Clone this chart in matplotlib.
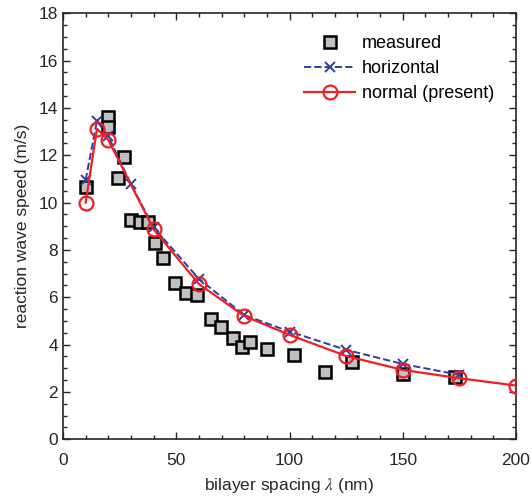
import numpy as np
import matplotlib
matplotlib.use("Agg")
import matplotlib.pyplot as plt
from matplotlib.ticker import MultipleLocator

plt.rcParams['font.family'] = ['Liberation Sans', 'DejaVu Sans']
plt.rcParams['mathtext.fontset'] = 'stix'

# measured reaction wave speeds
meas_x = [10, 20, 20, 24.5, 27, 30, 34, 37.5, 40.5, 44.3, 49.5, 54.5, 59, 65.5, 69.8, 75.2, 79, 82.6, 90.2, 102, 115.7, 127.5, 150, 173]
meas_v = [10.65, 13.63, 13.2, 11.05, 11.94, 9.25, 9.2, 9.2, 8.3, 7.65, 6.59, 6.17, 6.1, 5.07, 4.76, 4.27, 3.91, 4.12, 3.8, 3.56, 2.86, 3.25, 2.76, 2.65]

# model: horizontal orientation
horiz_x = [10, 15, 20, 30, 40, 60, 80, 100, 125, 150, 175]
horiz_v = [10.95, 13.45, 12.8, 10.78, 8.95, 6.78, 5.25, 4.55, 3.78, 3.18, 2.72]

# model: normal orientation (present)
norm_x = [10, 15, 20, 40, 60, 80, 100, 125, 150, 175, 200]
norm_v = [10.0, 13.12, 12.65, 8.87, 6.56, 5.21, 4.41, 3.52, 2.93, 2.58, 2.27]

fig = plt.figure(figsize=(5.32, 5.01), dpi=100)
ax = fig.add_axes([0.1184, 0.1232, 0.8516, 0.8503])

ax.plot(meas_x, meas_v, 's', ms=8.3, mfc='#c0c0c0', mec='black', mew=1.8,
        label='measured', zorder=2)
ax.plot(horiz_x, horiz_v, '--x', color='#2b3f9e', lw=1.4, ms=7, mew=1.4,
        label='horizontal', zorder=3)
ax.plot(norm_x, norm_v, '-o', color='#ee1f26', lw=1.6, ms=10, mfc='none',
        mew=1.6, label='normal (present)', zorder=4)

ax.set_xlim(0, 200)
ax.set_ylim(0, 18)
ax.xaxis.set_major_locator(MultipleLocator(50))
ax.xaxis.set_minor_locator(MultipleLocator(10))
ax.yaxis.set_major_locator(MultipleLocator(2))
ax.yaxis.set_minor_locator(MultipleLocator(0.5))
ax.tick_params(which='both', direction='in', top=True, right=True,
               colors='#262626', labelsize=12.5)
ax.tick_params(which='major', length=5, width=1)
ax.tick_params(which='minor', length=3, width=1)
ax.tick_params(axis='x', which='major', pad=10)
for s in ax.spines.values():
    s.set_color('#262626')
    s.set_linewidth(1.2)

ax.set_xlabel(r'bilayer spacing $\lambda$ (nm)', fontsize=12.5, color='#262626', labelpad=6)
ax.set_ylabel('reaction wave speed (m/s)', fontsize=12.5, color='#262626', labelpad=6)

ax.legend(loc='upper right', frameon=False, fontsize=13, handlelength=2.8,
          borderaxespad=0.6, borderpad=0.6, labelspacing=0.45, handletextpad=0.4)

fig.savefig('out.png', dpi=100)
